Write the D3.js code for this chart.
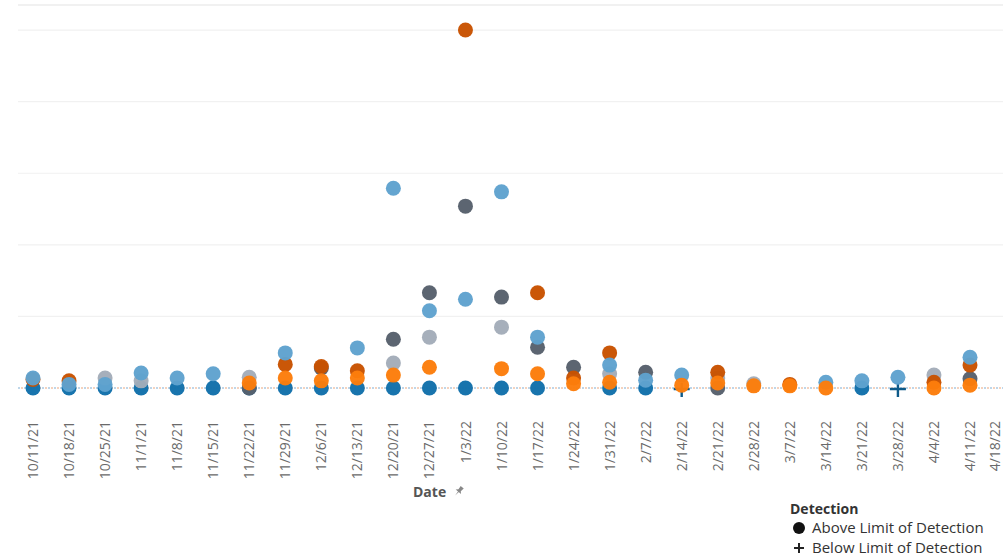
<!DOCTYPE html>
<html><head><meta charset="utf-8">
<script src="https://cdn.jsdelivr.net/npm/d3@7"></script>
<style>
html,body{margin:0;padding:0;background:#fff;}
svg{display:block;font-family:"Open Sans","Noto Sans",sans-serif;}
</style></head>
<body>
<svg id="chart" width="1003" height="558"></svg>
<script>
// ---- data ----
const dates = ["10/11/21","10/18/21","10/25/21","11/1/21","11/8/21","11/15/21","11/22/21","11/29/21",
  "12/6/21","12/13/21","12/20/21","12/27/21","1/3/22","1/10/22","1/17/22","1/24/22","1/31/22","2/7/22",
  "2/14/22","2/21/22","2/28/22","3/7/22","3/14/22","3/21/22","3/28/22","4/4/22","4/11/22","4/18/22"];
const gridValues = [0, 1, 2, 3, 4, 5];
const seriesNames = ["Site 1","Site 2","Site 3","Site 4","Site 5","Site 6"];
const seriesColors = ["#1170aa","#fc7d0b","#a3acb9","#57606c","#5fa2ce","#c85200"];
const site1 = [0,0,0,0,0,0,0,0,0,0,0,0,0,0,0,null,0,0,null,null,null,null,null,0,null,null,null,null];
const site2 = [null,null,null,null,null,null,0.07,0.14,0.1,0.14,0.18,0.29,null,0.27,0.2,0.06,0.08,null,0.04,0.07,0.03,0.03,0,null,null,0,0.04,null];
const site3 = [null,null,0.14,0.1,null,null,0.15,null,null,null,0.35,0.71,null,0.85,null,null,0.2,null,null,0.14,0.06,null,null,null,null,0.18,null,null];
const site4 = [null,null,null,null,null,null,0,null,0.28,null,0.68,1.33,2.54,1.27,0.57,0.29,null,0.22,null,0,null,null,null,null,null,null,0.13,null];
const site5 = [0.14,0.05,0.05,0.21,0.14,0.2,null,0.49,null,0.56,2.79,1.08,1.24,2.74,0.71,null,0.32,0.11,0.18,null,null,null,0.08,0.1,0.15,null,0.43,null];
const site6 = [0.12,0.1,null,null,null,null,null,0.33,0.3,0.24,null,null,5.0,null,1.33,0.14,0.49,null,null,0.22,null,0.05,null,null,null,0.08,0.32,null];
const seriesValues = [site1, site2, site3, site4, site5, site6];
// below limit of detection (plotted at 0)
const belowLimitSeries = ["Site 1","Site 1"];
const belowLimitDates = ["2/14/22","3/28/22"];
const legendTitle = "Detection";
const legendItems = ["Above Limit of Detection","Below Limit of Detection"];
const xTitle = "Date";

// ---- scales ----
const svg = d3.select("#chart");
const parse = d3.timeParse("%m/%d/%y");
const x = d3.scaleTime()
  .domain([parse(dates[0]), parse(dates[dates.length-2])])
  .range([33, 970]);
const y = d3.scaleLinear().domain([0, 5.35]).range([388, 5]);
const color = d3.scaleOrdinal().domain(seriesNames).range(seriesColors);
const drawOrder = ["Site 1","Site 3","Site 4","Site 6","Site 5","Site 2"];

// gridlines
const g = svg.append("g");
g.append("line").attr("x1",18).attr("x2",1003).attr("y1",y(5.35)).attr("y2",y(5.35))
  .attr("stroke","#e3e3e3").attr("stroke-width",1.2);
g.selectAll("line.grid").data(gridValues.filter(d=>d>0)).join("line").attr("class","grid")
  .attr("x1",18).attr("x2",1003).attr("y1",d=>y(d)).attr("y2",d=>y(d))
  .attr("stroke","#f1f1f1").attr("stroke-width",1.2);
// zero line dotted
g.append("line").attr("x1",18).attr("x2",1003).attr("y1",y(0)).attr("y2",y(0))
  .attr("stroke","#a9c9e2").attr("stroke-width",1.5).attr("stroke-dasharray","2,4");
g.append("line").attr("x1",21).attr("x2",1003).attr("y1",y(0)).attr("y2",y(0))
  .attr("stroke","#f2c3a8").attr("stroke-width",1.5).attr("stroke-dasharray","2,4");

// below-limit plus marks (drawn under the circles)
svg.append("g").selectAll("path").data(belowLimitDates.map((dd,i)=>({name:belowLimitSeries[i], date:parse(dd)})))
  .join("path")
  .attr("transform", d => `translate(${x(d.date)},${y(0)+1})`)
  .attr("d","M-8,-1.2 H8 V1.2 H-8 Z M-1.2,-6 H1.2 V8 H-1.2 Z")
  .attr("fill", d => d3.color(color(d.name)).darker(0.6));

// points
const pts = [];
drawOrder.forEach(name => {
  const vals = seriesValues[seriesNames.indexOf(name)];
  vals.forEach((v,i) => { if (v !== null) pts.push({name, date: parse(dates[i]), v}); });
});
svg.append("g").selectAll("circle").data(pts).join("circle")
  .attr("cx", d => x(d.date)).attr("cy", d => y(d.v)).attr("r", 7.5)
  .attr("fill", d => color(d.name)).attr("fill-opacity", 0.97);

// x labels
svg.append("g").selectAll("text").data(dates).join("text")
  .attr("transform", d => `translate(${Math.min(x(parse(d)), 995)},421) rotate(-90)`)
  .attr("text-anchor","end").attr("dy","0.36em")
  .attr("font-size",14).attr("fill","#6a6a6a").text(d=>d);

// x title
svg.append("text").attr("x",413).attr("y",497).attr("font-size",14).attr("font-weight","bold")
  .attr("fill","#555").text(xTitle);
svg.append("path").attr("transform","translate(459,491) rotate(40)")
  .attr("d","M-2,-5 L2,-5 L1.5,-1 L3.5,1 L-3.5,1 L-1.5,-1 Z M-0.5,1 L0.5,1 L0,6 Z")
  .attr("fill","#888");

// legend
svg.append("text").attr("x",790).attr("y",514).attr("font-size",14).attr("font-weight","bold")
  .attr("fill","#333").text(legendTitle);
svg.append("circle").attr("cx",799).attr("cy",528).attr("r",6).attr("fill","#111");
svg.append("path").attr("transform","translate(799,548)")
  .attr("d","M-5,-1 H5 V1 H-5 Z M-1,-5 H1 V5 H-1 Z").attr("fill","#222");
svg.selectAll("text.leg").data(legendItems).join("text").attr("class","leg")
  .attr("x",812).attr("y",(d,i)=>533+i*20).attr("font-size",15).attr("fill","#333").text(d=>d);
</script>
</body></html>
